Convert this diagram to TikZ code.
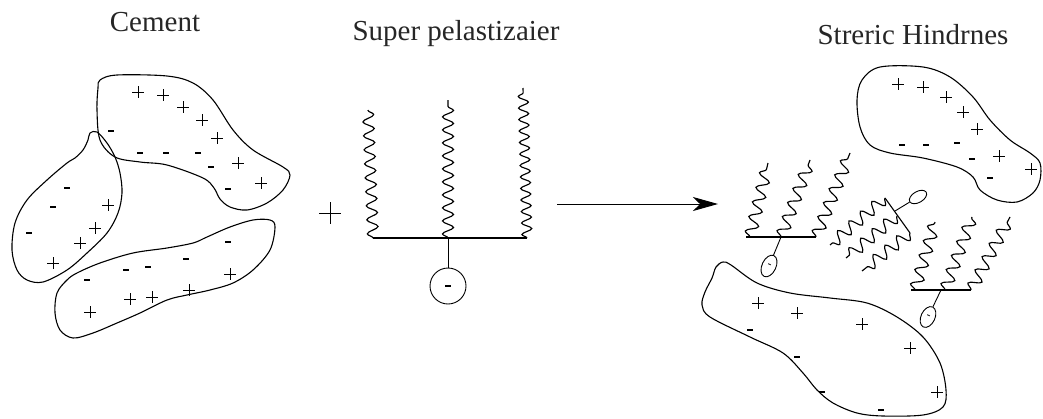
\documentclass[tikz,border=0pt]{standalone}
\usepackage{fontspec}
\setmainfont{Liberation Serif}
\usetikzlibrary{decorations.pathmorphing,shapes.geometric,arrows.meta}

\begin{document}
\begin{tikzpicture}[x=1pt,y=-1pt,
  label/.style={font=\fontsize{29}{32}\selectfont, text=black!85, anchor=base, inner sep=0pt},
  blob/.style={line width=1.1pt, line join=round},
  chain/.style={line width=1.15pt, decorate, decoration={snake, segment length=15pt, amplitude=6pt}},
  pchain/.style={line width=1.15pt, decorate, decoration={snake, segment length=#1}},
  backbone/.style={line width=1.1pt},
  head/.style={draw, line width=0.9pt, ellipse, inner sep=0pt, font=\fontsize{12}{12}\selectfont},
  pplus/.pic={\draw[line width=0.5pt] (-6,0) -- (6,0) (0,-6) -- (0,6);},
  pminus/.pic={\draw[line width=1.3pt] (-3,0) -- (3,0);},
  bigplus/.pic={\draw[line width=0.8pt] (-11,0) -- (11,0) (0,-11) -- (0,11);}
]
\useasboundingbox (0,0) rectangle (1043,418);

% ---------- titles ----------
\node[label] (tCement) at (155,31.5) {Cement};
\node[label] (tSuper) at (456,40) {Super pelastizaier};
\node[label] (tSteric) at (913,44) {Streric Hindrnes};

% ---------- cement particles ----------
\draw[blob] plot[smooth cycle, tension=0.55] coordinates {
  (100,80) (117,75) (167,76) (193,83) (213,100) (233,130) (253,150) (283,167)
  (290,175) (283,190) (267,203) (247,210) (230,207) (220,199) (214,188)
  (203,178) (167,165) (140,162) (115,157) (100,140) (97,110) (98,88)};
\draw[blob] plot[smooth cycle, tension=0.55] coordinates {
  (90,133) (97,132) (107,143) (115,157) (120,173) (122,193) (118,213) (107,233)
  (87,253) (67,270) (43,282) (27,280) (17,270) (12,250) (15,223) (27,200)
  (47,180) (67,163) (75,158) (83,150) (88,140)};
\draw[blob] plot[smooth cycle, tension=0.55] coordinates {
  (67,280) (57,293) (55,313) (60,330) (73,338) (93,333) (117,323) (140,313)
  (167,300) (187,295) (210,290) (233,283) (253,270) (270,250) (275,227)
  (270,220) (253,220) (230,227) (207,237) (193,243) (167,248) (133,253)
  (100,263) (77,273)};

\foreach \p in {(138,92),(163,95),(183,107),(202,120),(217,138),(238,163),(261,183),
                (108,205),(95,228),(80,243),(53,263),
                (90,312),(130,299),(152,297),(189,290),(230,274)}
  \pic at \p {pplus};
\foreach \p in {(111,131),(140,153),(166,153),(198,153),(211,167),(228,189),
                (67,188),(53,207),(29,233),
                (87,280),(126,270),(148,267),(186,259),(228,242)}
  \pic at \p {pminus};

\pic at (330,213) {bigplus};

% ---------- superplasticizer molecule ----------
\coordinate (bL) at (373,238);
\coordinate (bM) at (448,238);
\coordinate (bR) at (527,238);
\draw[backbone] (bL) -- (bR);
\node[draw, circle, line width=0.9pt, minimum size=36pt, inner sep=0pt] (sHead) at (448,286) {};
\pic at (sHead.center) {pminus};
\draw[line width=1pt] (bM) -- (sHead);
\coordinate (sT1) at (368,110);
\coordinate (sT2) at (448,100);
\coordinate (sT3) at (523,88);
\draw[pchain=14pt, decoration={amplitude=5.5pt}] (bL) -- (sT1);
\draw[pchain=13pt, decoration={amplitude=5.5pt}] (bM) -- (sT2);
\draw[pchain=11.5pt, decoration={amplitude=5pt}] (bR) -- (sT3);

% ---------- reaction arrow ----------
\coordinate (arS) at (557,204);
\coordinate (arE) at (718,204);
\draw[line width=1pt, -{Stealth[length=25pt, width=14pt, inset=7pt]}] (arS) -- (arE);

% ---------- adsorbed particles ----------
\draw[blob] plot[smooth cycle, tension=0.55] coordinates {
  (880,67) (923,67) (950,77) (973,97) (990,120) (1010,140) (1030,153) (1040,163)
  (1040,180) (1033,193) (1017,202) (997,200) (980,190) (973,177)
  (957,167) (923,158) (890,153) (870,145) (860,127) (857,100) (862,80)};
\draw[blob] plot[smooth cycle, tension=0.55] coordinates {
  (723,262) (731,265) (757,283) (790,293) (830,298) (867,303) (897,317)
  (923,337) (940,363) (946,390) (943,407) (923,415) (883,416) (857,413)
  (833,403) (817,390) (803,373) (783,353) (750,337) (710,317) (702,305)
  (705,292) (712,278) (716,267)};

\foreach \p in {(898,84),(923,87),(946,97),(963,112),(977,129),(999,156),(1031,169),
                (758,303),(797,313),(862,324),(910,348),(937,392)}
  \pic at \p {pplus};
\foreach \p in {(902,145),(926,145),(957,143),(972,159),(990,178),
                (750,330),(797,357),(822,392),(881,410)}
  \pic at \p {pminus};

% first adsorbed molecule
\coordinate (aL) at (746,237);
\coordinate (aM) at (781,237);
\coordinate (aR) at (816,237);
\draw[backbone] (aL) -- (aR);
\draw[chain] (750,237) -- (768,163);
\draw[chain] (aM) -- (810,160);
\draw[chain] (aR) -- (850,153);
\node[head, minimum width=14pt, minimum height=23pt, rotate=-25] (aHead) at (769,266) {-};
\draw[line width=0.9pt] (aM) -- (aHead);

% molecule seen end-on between the particles
\coordinate (mT) at (885,198);
\coordinate (mM) at (897,216);
\coordinate (mB) at (910,233);
\draw[backbone] (mT) -- (mB);
\draw[chain] (mT) -- (830,245);
\draw[chain] (mM) -- (846,258);
\draw[chain] (mB) -- (862,271);
\node[head, minimum width=19pt, minimum height=11pt, rotate=30] (mHead) at (918,197) {};
\draw[line width=0.9pt] (895,211) -- (mHead);

% second adsorbed molecule
\coordinate (cL) at (911,290);
\coordinate (cM) at (941,290);
\coordinate (cR) at (971,290);
\draw[backbone] (cL) -- (cR);
\draw[chain] (915,290) -- (935,222);
\draw[chain] (945,290) -- (972,217);
\draw[chain] (cR) -- (1010,217);
\node[head, minimum width=14pt, minimum height=22pt, rotate=-25] (cHead) at (928,317) {-};
\draw[line width=0.9pt] (cM) -- (cHead);
\end{tikzpicture}
\end{document}
